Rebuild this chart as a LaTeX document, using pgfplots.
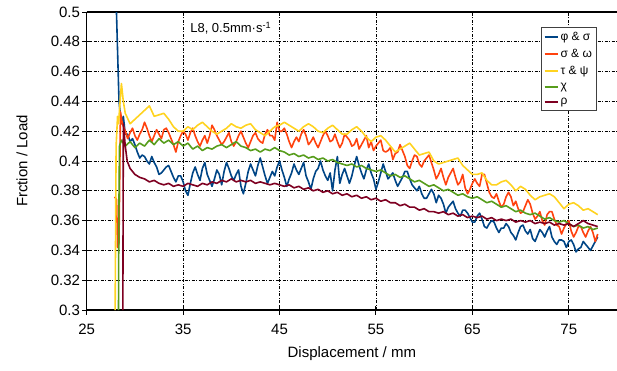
\documentclass[border=0pt]{standalone}
\usepackage{fontspec}
\setmainfont{Liberation Sans}
\usepackage{pgfplots}
\pgfplotsset{compat=1.18}
\definecolor{cblue}{HTML}{004586}
\definecolor{corange}{HTML}{FF420E}
\definecolor{cyellow}{HTML}{FFD320}
\definecolor{cgreen}{HTML}{579D1C}
\definecolor{cmaroon}{HTML}{7E0021}
\begin{document}
\begin{tikzpicture}
\begin{axis}[
  scale only axis, width=530.3pt, height=298pt,
  xmin=25, xmax=80, ymin=0.3, ymax=0.5,
  axis x line*=box, axis y line*=left,
  xtick={25,35,45,55,65,75},
  ytick={0.3,0.32,0.34,0.36,0.38,0.4,0.42,0.44,0.46,0.48,0.5},
  xtick pos=bottom, ytick pos=left,
  tick align=center, major tick length=9pt,
  every tick/.style={black, line width=1pt},
  axis line style={black, line width=1.2pt},
  grid=major,
  major grid style={black, line width=0.7pt, dash pattern=on 3pt off 1.5pt on 1pt off 1.5pt},
  /pgf/number format/assume math mode=true,
  /pgf/number format/fixed, /pgf/number format/precision=2,
  tick label style={font=\fontsize{15}{18}\selectfont},
  xticklabel style={anchor=north, inner sep=0pt, yshift=-9pt},
  yticklabel style={anchor=east, inner sep=0pt, xshift=-2pt},
  xlabel={Displacement / mm},
  ylabel={Frction / Load},
  every axis x label/.style={at={(axis description cs:0.5,-0.148)}, anchor=center, font=\fontsize{15}{18}\selectfont},
  every axis y label/.style={at={(axis description cs:-0.122,0.5)}, anchor=center, rotate=90, font=\fontsize{15}{18}\selectfont},
  legend style={at={(rel axis cs:0.962,0.950)}, anchor=north east, draw=black!75, line width=0.8pt,
    font=\fontsize{12}{14}\selectfont, row sep=3.2pt, inner sep=2.5pt, fill=white},
  legend cell align=left,
  legend image code/.code={\draw[#1, line width=1.8pt] (0pt,0pt) -- (13pt,0pt);},
  every axis plot/.append style={line width=1.6pt, line join=round},
]
% phi & sigma
\addplot[cblue] coordinates {
(28.0,0.52)(28.35,0.44)(28.6,0.425)(28.8,0.43)(29.0,0.418)
(29.25,0.418)(29.5,0.413)(29.75,0.415)(30,0.411)
(30.25,0.406)(30.5,0.402)(30.75,0.404)(31,0.403)
(31.25,0.400)(31.5,0.398)(31.75,0.403)(32,0.399)
(32.25,0.396)(32.5,0.391)(32.75,0.392)(33,0.394)
(33.25,0.396)(33.5,0.397)(33.75,0.393)(34,0.389)
(34.25,0.386)(34.5,0.390)(34.75,0.390)(35,0.386)
(35.25,0.380)(35.5,0.377)(35.75,0.385)(36,0.392)
(36.25,0.396)(36.5,0.391)(36.75,0.387)(37,0.395)
(37.25,0.399)(37.5,0.391)(37.75,0.387)(38,0.383)
(38.25,0.388)(38.5,0.394)(38.75,0.391)(39,0.384)
(39.25,0.393)(39.5,0.399)(39.75,0.395)(40,0.390)
(40.25,0.387)(40.5,0.391)(40.75,0.394)(41,0.383)
(41.25,0.378)(41.5,0.385)(41.75,0.393)(42,0.398)
(42.25,0.394)(42.5,0.390)(42.75,0.397)(43,0.402)
(43.25,0.396)(43.5,0.390)(43.75,0.385)(44,0.389)
(44.25,0.393)(44.5,0.390)(44.75,0.396)(45,0.400)
(45.25,0.394)(45.5,0.389)(45.75,0.383)(46,0.388)
(46.25,0.392)(46.5,0.398)(46.75,0.394)(47,0.391)
(47.25,0.395)(47.5,0.399)(47.75,0.390)(48,0.386)
(48.25,0.381)(48.5,0.388)(48.75,0.393)(49,0.395)
(49.25,0.400)(49.5,0.394)(49.75,0.390)(50,0.387)
(50.25,0.392)(50.5,0.380)(50.75,0.394)(51,0.403)
(51.25,0.385)(51.5,0.391)(51.75,0.395)(52,0.390)
(52.25,0.385)(52.5,0.390)(52.75,0.397)(53,0.403)
(53.25,0.397)(53.5,0.392)(53.75,0.388)(54,0.394)
(54.25,0.398)(54.5,0.392)(54.75,0.388)(55,0.381)
(55.25,0.386)(55.5,0.392)(55.75,0.398)(56,0.393)
(56.25,0.388)(56.5,0.390)(56.75,0.392)(57,0.387)
(57.25,0.383)(57.5,0.386)(57.75,0.389)(58,0.393)
(58.25,0.393)(58.5,0.388)(58.75,0.384)(59,0.382)
(59.25,0.380)(59.5,0.383)(59.75,0.378)(60,0.375)
(60.25,0.375)(60.5,0.378)(60.75,0.381)(61,0.378)
(61.25,0.372)(61.5,0.377)(61.75,0.375)(62,0.371)
(62.25,0.365)(62.5,0.369)(62.75,0.371)(63,0.373)
(63.25,0.368)(63.5,0.365)(63.75,0.363)(64,0.367)
(64.25,0.367)(64.5,0.365)(64.75,0.362)(65,0.359)
(65.25,0.359)(65.5,0.363)(65.75,0.365)(66,0.361)
(66.25,0.356)(66.5,0.355)(66.75,0.358)(67,0.360)
(67.25,0.359)(67.5,0.355)(67.75,0.352)(68,0.355)
(68.25,0.355)(68.5,0.358)(68.75,0.356)(69,0.352)
(69.25,0.350)(69.5,0.347)(69.75,0.352)(70,0.356)
(70.25,0.357)(70.5,0.353)(70.75,0.351)(71,0.354)
(71.25,0.348)(71.5,0.346)(71.75,0.350)(72,0.354)
(72.25,0.352)(72.5,0.349)(72.75,0.353)(73,0.356)
(73.25,0.349)(73.5,0.346)(73.75,0.344)(74,0.347)
(74.25,0.347)(74.5,0.346)(74.75,0.342)(75,0.346)
(75.25,0.347)(75.5,0.344)(75.75,0.339)(76,0.341)
(76.25,0.342)(76.5,0.346)(76.75,0.344)(77,0.342)
(77.25,0.340)(77.5,0.343)(77.75,0.346)(78,0.349)
};
\addlegendentry{φ \& σ}
% sigma & omega
\addplot[corange] coordinates {
(27.9,0.376)(28.1,0.374)(28.2,0.342)(28.35,0.345)(28.5,0.433)(28.7,0.425)(29,0.420)
(29.25,0.415)(29.5,0.419)(29.75,0.422)(30,0.417)
(30.25,0.414)(30.5,0.418)(30.75,0.421)(31,0.426)
(31.25,0.422)(31.5,0.417)(31.75,0.413)(32,0.417)
(32.25,0.421)(32.5,0.418)(32.75,0.415)(33,0.421)
(33.25,0.422)(33.5,0.419)(33.75,0.415)(34,0.411)
(34.25,0.406)(34.5,0.413)(34.75,0.417)(35,0.420)
(35.25,0.418)(35.5,0.414)(35.75,0.419)(36,0.422)
(36.25,0.417)(36.5,0.413)(36.75,0.410)(37,0.414)
(37.25,0.417)(37.5,0.412)(37.75,0.417)(38,0.424)
(38.25,0.421)(38.5,0.417)(38.75,0.414)(39,0.411)
(39.25,0.413)(39.5,0.416)(39.75,0.419)(40,0.413)
(40.25,0.410)(40.5,0.413)(40.75,0.417)(41,0.420)
(41.25,0.416)(41.5,0.412)(41.75,0.409)(42,0.413)
(42.25,0.417)(42.5,0.419)(42.75,0.415)(43,0.413)
(43.25,0.412)(43.5,0.418)(43.75,0.421)(44,0.417)
(44.25,0.417)(44.5,0.414)(44.75,0.426)(45,0.420)
(45.25,0.420)(45.5,0.422)(45.75,0.418)(46,0.413)
(46.25,0.409)(46.5,0.413)(46.75,0.416)(47,0.413)
(47.25,0.418)(47.5,0.421)(47.75,0.417)(48,0.411)
(48.25,0.413)(48.5,0.416)(48.75,0.412)(49,0.409)
(49.25,0.413)(49.5,0.417)(49.75,0.420)(50,0.417)
(50.25,0.413)(50.5,0.414)(50.75,0.418)(51,0.413)
(51.25,0.409)(51.5,0.412)(51.75,0.418)(52,0.416)
(52.25,0.414)(52.5,0.410)(52.75,0.411)(53,0.415)
(53.25,0.408)(53.5,0.411)(53.75,0.414)(54,0.417)
(54.25,0.409)(54.5,0.413)(54.75,0.407)(55,0.410)
(55.25,0.412)(55.5,0.414)(55.75,0.407)(56,0.406)
(56.25,0.407)(56.5,0.409)(56.75,0.401)(57,0.405)
(57.25,0.406)(57.5,0.411)(57.75,0.407)(58,0.403)
(58.25,0.397)(58.5,0.395)(58.75,0.400)(59,0.404)
(59.25,0.403)(59.5,0.398)(59.75,0.396)(60,0.400)
(60.25,0.402)(60.5,0.404)(60.75,0.399)(61,0.394)
(61.25,0.388)(61.5,0.391)(61.75,0.395)(62,0.389)
(62.25,0.384)(62.5,0.389)(62.75,0.392)(63,0.395)
(63.25,0.389)(63.5,0.384)(63.75,0.386)(64,0.391)
(64.25,0.382)(64.5,0.378)(64.75,0.381)(65,0.385)
(65.25,0.388)(65.5,0.385)(65.75,0.383)(66,0.391)
(66.25,0.391)(66.5,0.385)(66.75,0.379)(67,0.376)
(67.25,0.375)(67.5,0.378)(67.75,0.373)(68,0.369)
(68.25,0.371)(68.5,0.376)(68.75,0.379)(69,0.376)
(69.25,0.370)(69.5,0.373)(69.75,0.368)(70,0.365)
(70.25,0.366)(70.5,0.370)(70.75,0.374)(71,0.371)
(71.25,0.365)(71.5,0.361)(71.75,0.363)(72,0.366)
(72.25,0.360)(72.5,0.357)(72.75,0.364)(73,0.366)
(73.25,0.366)(73.5,0.361)(73.75,0.357)(74,0.356)
(74.25,0.351)(74.5,0.355)(74.75,0.358)(75,0.360)
(75.25,0.353)(75.5,0.349)(75.75,0.352)(76,0.356)
(76.25,0.356)(76.5,0.352)(76.75,0.349)(77,0.353)
(77.25,0.356)(77.5,0.352)(77.75,0.346)(78,0.351)
};
\addlegendentry{σ \& ω}
% tau & psi
\addplot[cyellow] coordinates {
(27.95,0.300)(28.05,0.410)(28.2,0.430)(28.3,0.425)(28.6,0.452)(28.8,0.440)(29.0,0.432)
(29.5,0.425)(30,0.428)(30.5,0.431)(31,0.434)(31.5,0.437)(32,0.430)(32.5,0.431)(33,0.432)
(33.5,0.428)(34,0.423)(34.5,0.420)(35,0.420)(35.5,0.423)(36,0.421)(36.5,0.424)(37,0.426)
(37.5,0.423)(38,0.420)(38.5,0.418)(39,0.420)(39.5,0.422)(40,0.425)(40.5,0.423)(41,0.422)
(41.5,0.424)(42,0.425)(42.5,0.421)(43,0.419)(43.5,0.417)(44,0.420)(44.5,0.423)(45,0.424)
(45.5,0.426)(46,0.424)(46.5,0.422)(47,0.420)(47.5,0.423)(48,0.425)(48.5,0.423)(49,0.420)
(49.5,0.419)(50,0.422)(50.5,0.424)(51,0.421)(51.5,0.418)(52,0.418)(52.5,0.421)(53,0.423)
(53.5,0.420)(54,0.416)(54.5,0.413)(55,0.416)(55.5,0.417)(56,0.414)(56.5,0.410)(57,0.406)
(57.5,0.408)(58,0.410)(58.5,0.412)(59,0.408)(59.5,0.404)(60,0.405)(60.5,0.406)(61,0.400)
(61.5,0.398)(62,0.399)(62.5,0.400)(63,0.401)(63.5,0.402)(64,0.397)(64.5,0.394)(65,0.391)
(65.5,0.391)(66,0.392)(66.5,0.387)(67,0.384)(67.5,0.384)(68,0.386)(68.5,0.387)(69,0.384)
(69.5,0.380)(70,0.383)(70.5,0.381)(71,0.377)(71.5,0.374)(72,0.376)(72.5,0.377)(73,0.378)
(73.5,0.376)(74,0.372)(74.5,0.368)(75,0.371)(75.5,0.372)(76,0.370)(76.5,0.367)(77,0.368)
(77.5,0.366)(78,0.364)
};
\addlegendentry{τ \& ψ}
% chi
\addplot[cgreen] coordinates {
(28.3,0.300)(28.33,0.360)(28.4,0.410)(28.6,0.414)(29,0.410)(29.5,0.413)(30,0.409)(30.5,0.412)
(31,0.410)(31.5,0.414)(32,0.411)(32.5,0.415)(33,0.412)(33.5,0.414)(34,0.411)(34.5,0.413)(35,0.410)
(35.5,0.412)(36,0.408)(36.5,0.410)(37,0.407)(37.5,0.409)(38,0.408)(38.5,0.410)(39,0.411)(39.5,0.409)
(40,0.411)(40.5,0.413)(41,0.410)(41.5,0.409)(42,0.407)(42.5,0.408)(43,0.406)(43.5,0.408)(44,0.407)
(44.5,0.409)(45,0.407)(45.5,0.406)(46,0.404)(46.5,0.405)(47,0.403)(47.5,0.404)(48,0.402)(48.5,0.403)
(49,0.401)(49.5,0.402)(50,0.400)(50.5,0.401)(51,0.399)(51.5,0.398)(52,0.397)(52.5,0.398)(53,0.396)
(53.5,0.397)(54,0.395)(54.5,0.394)(55,0.393)(55.5,0.394)(56,0.392)(56.5,0.390)(57,0.391)(57.5,0.389)
(58,0.390)(58.5,0.388)(59,0.386)(59.5,0.387)(60,0.385)(60.5,0.383)(61,0.384)(61.5,0.382)(62,0.380)
(62.5,0.381)(63,0.379)(63.5,0.377)(64,0.378)(64.5,0.376)(65,0.375)(65.5,0.376)(66,0.374)(66.5,0.372)
(67,0.373)(67.5,0.371)(68,0.369)(68.5,0.370)(69,0.368)(69.5,0.366)(70,0.367)(70.5,0.365)(71,0.364)
(71.5,0.365)(72,0.363)(72.5,0.361)(73,0.362)(73.5,0.360)(74,0.359)(74.5,0.360)(75,0.358)(75.5,0.356)
(76,0.357)(76.5,0.355)(77,0.356)(77.5,0.354)(78,0.355)
};
\addlegendentry{χ}
% rho
\addplot[cmaroon] coordinates {
(28.75,0.300)(28.8,0.425)(29.0,0.410)(29.2,0.400)(29.5,0.395)(30,0.391)(30.5,0.389)(31,0.388)
(31.5,0.386)(32,0.387)(32.5,0.385)(33,0.384)(33.5,0.385)(34,0.383)(34.5,0.384)(35,0.383)(35.5,0.385)
(36,0.384)(36.5,0.383)(37,0.385)(37.5,0.384)(38,0.386)(38.5,0.385)(39,0.387)(39.5,0.386)(40,0.388)
(40.5,0.386)(41,0.387)(41.5,0.386)(42,0.387)(42.5,0.385)(43,0.386)(43.5,0.385)(44,0.384)(44.5,0.385)
(45,0.384)(45.5,0.383)(46,0.384)(46.5,0.382)(47,0.383)(47.5,0.381)(48,0.382)(48.5,0.380)(49,0.381)
(49.5,0.379)(50,0.380)(50.5,0.378)(51,0.379)(51.5,0.377)(52,0.378)(52.5,0.376)(53,0.377)(53.5,0.375)
(54,0.376)(54.5,0.374)(55,0.375)(55.5,0.373)(56,0.374)(56.5,0.372)(57,0.372)(57.5,0.370)(58,0.371)
(58.5,0.369)(59,0.369)(59.5,0.367)(60,0.368)(60.5,0.366)(61,0.366)(61.5,0.365)(62,0.366)(62.5,0.364)
(63,0.365)(63.5,0.363)(64,0.364)(64.5,0.362)(65,0.363)(65.5,0.362)(66,0.363)(66.5,0.361)(67,0.362)
(67.5,0.360)(68,0.361)(68.5,0.360)(69,0.361)(69.5,0.359)(70,0.360)(70.5,0.359)(71,0.360)(71.5,0.358)
(72,0.359)(72.5,0.358)(73,0.359)(73.5,0.357)(74,0.358)(74.5,0.357)(75,0.358)(75.5,0.356)(76,0.358)
(76.5,0.360)(77,0.358)(77.5,0.357)(78,0.356)
};
\addlegendentry{ρ}
\node[anchor=west, inner sep=0pt, font=\fontsize{13}{15}\selectfont] at (rel axis cs:0.195,0.946) {L8, 0.5mm·s\textsuperscript{-1}};
\end{axis}
\pgfresetboundingbox
\useasboundingbox (-86.7pt,-60pt) rectangle (530.3pt,310pt);
\end{tikzpicture}
\end{document}
